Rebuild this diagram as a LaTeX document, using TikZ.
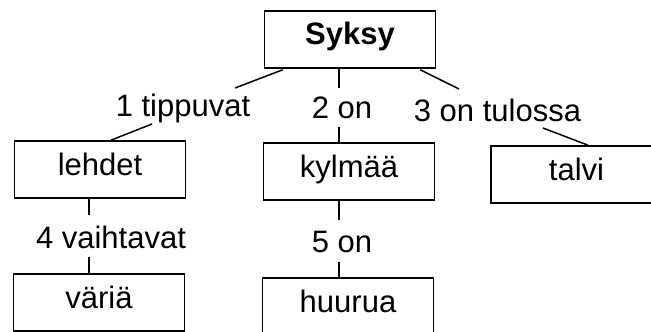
\documentclass[tikz,border=0pt]{standalone}
\usepackage{fontspec}
\setmainfont{Liberation Sans}
\usetikzlibrary{calc}
\begin{document}
\begin{tikzpicture}[x=1pt,y=-1pt,
  every node/.style={font=\fontsize{31}{36}\selectfont},
  box/.style={draw,line width=1.6pt,anchor=base,inner xsep=0pt,inner ysep=0pt,
    text height=34pt,text depth=23pt,minimum width=171pt},
  lab/.style={anchor=base,inner sep=0pt},
  conn/.style={line width=1.5pt}]
\useasboundingbox (0,0) rectangle (651,332);
\clip (0,0) rectangle (651,332);
\fill[white] (0,0) rectangle (651,332);
% boxes
\node[box,font=\fontsize{31}{36}\selectfont\bfseries] (syksy) at (350,45) {Syksy};
\node[box] (lehdet) at (100,175) {lehdet};
\node[box] (kylmaa) at (349,177) {kylmää};
\node[box] (talvi) at (576.5,180) {talvi};
\node[box] (varia) at (99,308) {väriä};
\node[box] (huurua) at (348,312) {huurua};
% labels
\node[lab] (t1) at (183,116) {1 tippuvat};
\node[lab] (t2) at (342,118) {2 on};
\node[lab] (t3) at (497.5,121) {3 on tulossa};
\node[lab] (t4) at (111,248) {4 vaihtavat};
\node[lab] (t5) at (342,252) {5 on};
% connectors
\draw[conn] ($(syksy.south west)+(19,1)$) -- ($(t1.base)+(52,-28)$);
\draw[conn] ($(syksy.south)+(-11,0)$) -- ($(t2.base)+(-3,-30)$);
\draw[conn] ($(syksy.south east)+(-16,1)$) -- ($(t3.base)+(-38.5,-32)$);
\draw[conn] ($(t1.base)+(-31,8)$) -- ($(lehdet.north)+(11,0)$);
\draw[conn] ($(t2.base)+(-3,9)$) -- ($(kylmaa.north)+(-10,0)$);
\draw[conn] ($(t3.base)+(45.5,7)$) -- ($(talvi.north)+(11.5,0)$);
\draw[conn] ($(lehdet.south)+(-11,0)$) -- ($(t4.base)+(-22,-33)$);
\draw[conn] ($(t4.base)+(-22,9)$) -- ($(varia.north)+(-10,0)$);
\draw[conn] ($(kylmaa.south)+(-10,0)$) -- ($(t5.base)+(-3,-32)$);
\draw[conn] ($(t5.base)+(-3,10)$) -- ($(huurua.north)+(-9,0)$);
\end{tikzpicture}
\end{document}
